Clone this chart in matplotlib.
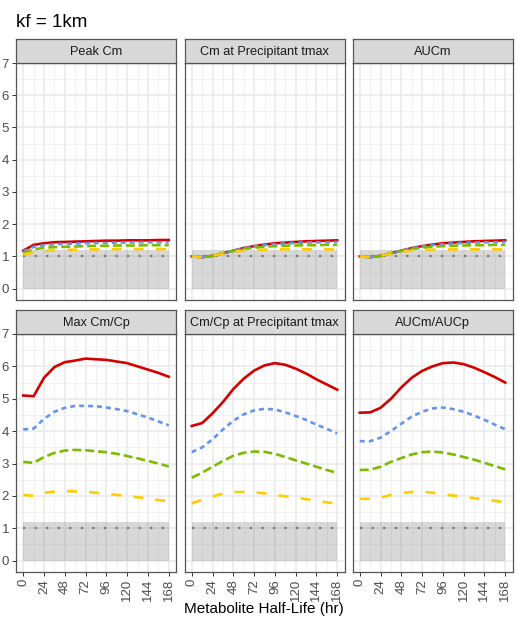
import numpy as np
import matplotlib.pyplot as plt
from matplotlib.ticker import MultipleLocator

plt.rcParams['font.family'] = ['Liberation Sans', 'DejaVu Sans']

# metabolite half-life grid (hr)
half_life = [0, 12, 24, 36, 48, 60, 72, 84, 96, 108, 120, 132, 144, 156, 168]

panel_titles = ['Peak Cm', 'Cm at Precipitant tmax', 'AUCm',
                'Max Cm/Cp', 'Cm/Cp at Precipitant tmax', 'AUCm/AUCp']

# series order: red, blue, green, yellow
peak_red = [1.18, 1.36, 1.41, 1.44, 1.45, 1.46, 1.47, 1.48, 1.49, 1.49, 1.50, 1.50, 1.50, 1.51, 1.51]
peak_blue = [1.15, 1.30, 1.35, 1.38, 1.39, 1.40, 1.41, 1.42, 1.42, 1.43, 1.43, 1.44, 1.44, 1.44, 1.44]
peak_green = [1.10, 1.22, 1.27, 1.29, 1.30, 1.31, 1.32, 1.33, 1.33, 1.34, 1.34, 1.34, 1.35, 1.35, 1.35]
peak_yellow = [1.06, 1.13, 1.17, 1.19, 1.20, 1.21, 1.22, 1.22, 1.22, 1.23, 1.23, 1.23, 1.23, 1.23, 1.23]

cmt_red = [1.00, 0.98, 1.02, 1.10, 1.18, 1.26, 1.32, 1.37, 1.41, 1.43, 1.45, 1.47, 1.48, 1.49, 1.50]
cmt_blue = [1.00, 0.98, 1.02, 1.10, 1.18, 1.25, 1.31, 1.35, 1.38, 1.40, 1.42, 1.43, 1.44, 1.44, 1.45]
cmt_green = [1.00, 0.98, 1.02, 1.10, 1.17, 1.23, 1.27, 1.30, 1.32, 1.33, 1.34, 1.35, 1.35, 1.36, 1.36]
cmt_yellow = [1.00, 0.98, 1.02, 1.09, 1.15, 1.18, 1.20, 1.21, 1.22, 1.22, 1.22, 1.22, 1.22, 1.22, 1.22]

auc_red = [1.00, 0.98, 1.02, 1.10, 1.18, 1.26, 1.32, 1.37, 1.41, 1.43, 1.45, 1.47, 1.48, 1.49, 1.50]
auc_blue = [1.00, 0.98, 1.02, 1.10, 1.18, 1.25, 1.31, 1.35, 1.38, 1.40, 1.42, 1.43, 1.44, 1.44, 1.45]
auc_green = [1.00, 0.98, 1.02, 1.10, 1.17, 1.23, 1.27, 1.30, 1.32, 1.33, 1.34, 1.35, 1.35, 1.36, 1.36]
auc_yellow = [1.00, 0.98, 1.02, 1.09, 1.15, 1.18, 1.20, 1.21, 1.22, 1.22, 1.22, 1.22, 1.22, 1.22, 1.22]

maxr_red = [5.10, 5.08, 5.65, 5.98, 6.13, 6.18, 6.24, 6.22, 6.20, 6.15, 6.10, 6.00, 5.90, 5.80, 5.68]
maxr_blue = [4.05, 4.08, 4.38, 4.60, 4.72, 4.78, 4.78, 4.77, 4.73, 4.68, 4.62, 4.52, 4.42, 4.30, 4.18]
maxr_green = [3.05, 3.02, 3.20, 3.33, 3.40, 3.42, 3.41, 3.38, 3.35, 3.30, 3.23, 3.16, 3.08, 3.00, 2.91]
maxr_yellow = [2.03, 2.00, 2.10, 2.13, 2.15, 2.14, 2.12, 2.10, 2.06, 2.03, 2.00, 1.96, 1.92, 1.87, 1.84]

tr_red = [4.16, 4.25, 4.55, 4.90, 5.30, 5.62, 5.87, 6.03, 6.10, 6.05, 5.93, 5.78, 5.60, 5.44, 5.28]
tr_blue = [3.35, 3.50, 3.75, 4.05, 4.32, 4.52, 4.64, 4.69, 4.67, 4.58, 4.47, 4.35, 4.20, 4.07, 3.93]
tr_green = [2.56, 2.72, 2.90, 3.08, 3.24, 3.33, 3.37, 3.36, 3.30, 3.20, 3.10, 3.00, 2.90, 2.80, 2.71]
tr_yellow = [1.77, 1.88, 1.98, 2.07, 2.12, 2.12, 2.11, 2.08, 2.03, 1.99, 1.95, 1.90, 1.86, 1.80, 1.76]

aucr_red = [4.57, 4.58, 4.72, 5.00, 5.35, 5.65, 5.86, 6.00, 6.10, 6.12, 6.07, 5.96, 5.82, 5.67, 5.50]
aucr_blue = [3.69, 3.69, 3.80, 4.00, 4.23, 4.45, 4.60, 4.70, 4.73, 4.68, 4.60, 4.48, 4.35, 4.20, 4.06]
aucr_green = [2.80, 2.81, 2.90, 3.05, 3.17, 3.28, 3.35, 3.37, 3.34, 3.28, 3.20, 3.12, 3.02, 2.92, 2.82]
aucr_yellow = [1.91, 1.91, 1.95, 2.03, 2.09, 2.12, 2.13, 2.10, 2.05, 2.01, 1.97, 1.93, 1.89, 1.85, 1.80]

panel_data = [
    [peak_red, peak_blue, peak_green, peak_yellow],
    [cmt_red, cmt_blue, cmt_green, cmt_yellow],
    [auc_red, auc_blue, auc_green, auc_yellow],
    [maxr_red, maxr_blue, maxr_green, maxr_yellow],
    [tr_red, tr_blue, tr_green, tr_yellow],
    [aucr_red, aucr_blue, aucr_green, aucr_yellow],
]

# reference band and line
band_lo, band_hi, ref_line = 0, 1.2, 1.0

line_styles = [
    dict(color='#D40000', linestyle='-'),
    dict(color='#6495ED', linestyle=(0, (1.9, 1.5))),
    dict(color='#7DBB00', linestyle=(0, (3.4, 1.5))),
    dict(color='#FFCC00', linestyle=(0, (3.8, 4.6))),
]

W, H = 518, 622
fig = plt.figure(figsize=(W / 100, H / 100), dpi=100)
border = '#555555'

lefts = [16, 184.5, 352.5]
pw = 160
rows = [(63, 300, 39), (334, 572, 310)]  # panel top, panel bottom, strip top

for i, title in enumerate(panel_titles):
    r, c = divmod(i, 3)
    ptop, pbot, stop = rows[r]
    x0 = lefts[c]
    ax = fig.add_axes([x0 / W, 1 - pbot / H, pw / W, (pbot - ptop) / H])
    sax = fig.add_axes([x0 / W, 1 - ptop / H, pw / W, (ptop - stop) / H])
    sax.set_facecolor('#D9D9D9')
    sax.set_xticks([])
    sax.set_yticks([])
    for s in sax.spines.values():
        s.set_color(border)
        s.set_linewidth(0.9)
    sax.text(0.5, 0.47, title, ha='center', va='center', fontsize=9.2,
             color='#1a1a1a', transform=sax.transAxes)

    ax.fill_between([half_life[0], half_life[-1]], band_lo, band_hi,
                    color='grey', alpha=0.3, lw=0, zorder=2)
    ax.axhline(ref_line, xmin=0.045, xmax=0.955, color='#777777', lw=1.6,
               linestyle=(0, (1, 4.2)), zorder=3)
    for series, st in zip(panel_data[i], line_styles):
        ax.plot(half_life, series, lw=1.9, zorder=4, **st)

    ax.set_xlim(-8.4, 176.4)
    ax.set_ylim(-0.35, 7.0)
    ax.xaxis.set_major_locator(MultipleLocator(24))
    ax.xaxis.set_minor_locator(MultipleLocator(12))
    ax.yaxis.set_major_locator(MultipleLocator(1))
    ax.yaxis.set_minor_locator(MultipleLocator(0.5))
    ax.grid(which='major', color='#EBEBEB', lw=1.2, zorder=0)
    ax.grid(which='minor', color='#EFEFEF', lw=0.6, zorder=0)
    ax.set_axisbelow(True)
    for s in ax.spines.values():
        s.set_color(border)
        s.set_linewidth(0.9)
    ax.tick_params(which='major', length=3, width=0.7, color='#333333',
                   labelsize=9.5, labelcolor='#4d4d4d', pad=2)
    ax.tick_params(which='minor', length=0)
    if c != 0:
        ax.tick_params(axis='y', which='both', left=False, labelleft=False)
    if r == 0:
        ax.tick_params(axis='x', which='both', bottom=False, labelbottom=False)
    else:
        for lab in ax.get_xticklabels():
            lab.set_rotation(90)

fig.text(16 / W, 1 - 27 / H, 'kf = 1km', fontsize=13.5, ha='left', va='baseline')
fig.text(264 / W, 1 - 609 / H, 'Metabolite Half-Life (hr)', fontsize=11,
         ha='center', va='center')

plt.savefig('out.png', dpi=100)
